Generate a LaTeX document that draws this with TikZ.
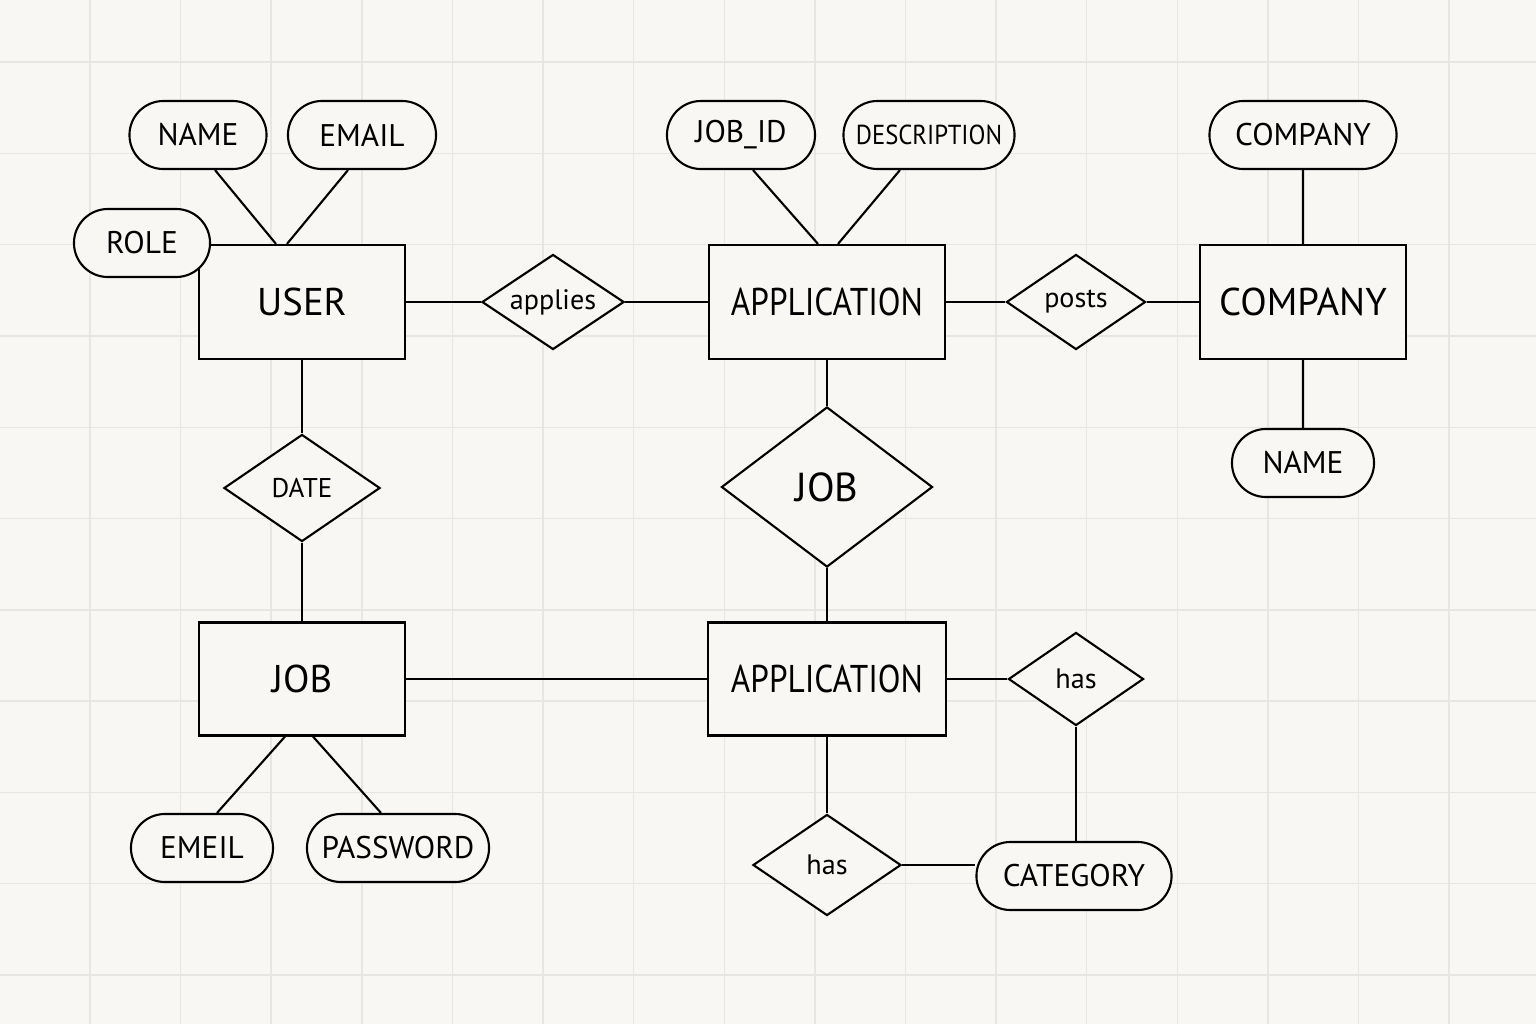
\documentclass[tikz,border=0pt]{standalone}
\usepackage{fontspec}
\setmainfont{PT Sans}
\usetikzlibrary{shapes,positioning,shapes.geometric,shapes.misc}
\definecolor{paper}{HTML}{F8F7F4}
\definecolor{gridline}{HTML}{E8E6E2}

\begin{document}
\begin{tikzpicture} [
		x=0.01cm, y=-0.01cm,
		entity/.style   = { rectangle, draw=black, line width=0.6pt, fill=paper,
			minimum width=2.06cm, minimum height=1.14cm, inner sep=0pt,
			font=\fontsize{11}{13}\selectfont },
		attr/.style     = { rounded rectangle, draw=black, line width=0.6pt, fill=paper,
			minimum height=0.68cm, inner sep=0pt,
			font=\fontsize{8.9}{10}\selectfont },
		relation/.style = { diamond, draw=black, line width=0.6pt, fill=paper,
			aspect=1.5, inner sep=0pt, font=\fontsize{8}{10}\selectfont },
		line/.style     = { draw, line width=0.6pt },
	]
	% paper and grid
	\useasboundingbox (0,0) rectangle (1536,1024);
	\fill [paper] (0,0) rectangle (1536,1024);
	\foreach \i in {-1,...,16}
		\draw [gridline, line width=0.4pt] ({90+90.6*\i},0) -- ({90+90.6*\i},1024);
	\foreach \j in {-1,...,10}
		\draw [gridline, line width=0.4pt] (0,{62+91.3*\j}) -- (1536,{62+91.3*\j});
	% entities, attributes and relations
	\begin{scope}
		\node [entity] (user) at (302,302) {USER};
		\node [attr, minimum width=1.37cm] (username) at (198,135) {NAME};
		\node [attr, minimum width=1.48cm] (useremail) at (362,135) {EMAIL};
		\node [attr, minimum width=1.36cm] (userrole) at (142,243) {ROLE};
		\node [relation, minimum width=1.42cm, minimum height=0.95cm] (applies) at (553,302) {applies};
		\node [entity, minimum width=2.36cm] (app) at (827,302) {\scalebox{0.86}[1]{APPLICATION}};
		\node [attr, minimum width=1.48cm] (jobid) at (741,135) {JOB\_ID};
		\node [attr, minimum width=1.71cm, font=\fontsize{7.8}{9}\selectfont] (desc) at (929,135) {\scalebox{0.9}[1]{DESCRIPTION}};
		\node [relation, minimum width=1.39cm, minimum height=0.95cm] (posts) at (1076,302) {posts};
		\node [entity] (company) at (1303,302) {COMPANY};
		\node [attr, minimum width=1.87cm] (companyname) at (1303,135) {COMPANY};
		\node [attr, minimum width=1.42cm] (cname) at (1303,463) {NAME};
		\node [relation, minimum width=1.56cm, minimum height=1.07cm, font=\fontsize{7.7}{9}\selectfont] (date) at (302,488) {DATE};
		\node [relation, minimum width=2.11cm, minimum height=1.6cm, font=\fontsize{11.5}{13}\selectfont] (jobrel) at (827,487) {JOB};
		\node [entity, minimum height=1.13cm] (job) at (302,679) {JOB};
		\node [entity, minimum width=2.37cm, minimum height=1.13cm] (app2) at (827,679) {\scalebox{0.86}[1]{APPLICATION}};
		\node [relation, minimum width=1.35cm, minimum height=0.93cm] (hasright) at (1076,679) {has};
		\node [relation, minimum width=1.48cm, minimum height=1.01cm] (hasbelow) at (827,865) {has};
		\node [attr, minimum width=1.95cm] (category) at (1074,876) {CATEGORY};
		\node [attr, minimum width=1.42cm] (jobemail) at (202,848) {EMEIL};
		\node [attr, minimum width=1.82cm] (jobpass) at (398,848) {PASSWORD};
	\end{scope}
	% connect all nodes defined above
	\begin{scope} [every path/.style=line]
		\path ([xshift=.17cm]username.south) -- ([xshift=-.26cm]user.north);
		\path ([xshift=-.14cm]useremail.south) -- ([xshift=-.15cm]user.north);
		\path (user) -- (applies);
		\path (applies) -- (app);
		\path ([xshift=.12cm]jobid.south) -- ([xshift=-.09cm]app.north);
		\path ([xshift=-.29cm]desc.south) -- ([xshift=.11cm]app.north);
		\path (app) -- (posts);
		\path (posts) -- (company);
		\path (companyname) -- (company);
		\path (company) -- (cname);
		\path (user) -- (date);
		\path (date) -- (job);
		\path (app) -- (jobrel);
		\path (jobrel) -- (app2);
		\path (job) -- (app2);
		\path (app2) -- (hasright);
		\path (hasright.south) -- (hasright.south |- category.north);
		\path (app2) -- (hasbelow);
		\path (hasbelow.east) -- (hasbelow.east -| category.west);
		\path ([xshift=-.17cm]job.south) -- ([xshift=.15cm]jobemail.north);
		\path ([xshift=.11cm]job.south) -- ([xshift=-.17cm]jobpass.north);
	\end{scope}
\end{tikzpicture}
\end{document}
